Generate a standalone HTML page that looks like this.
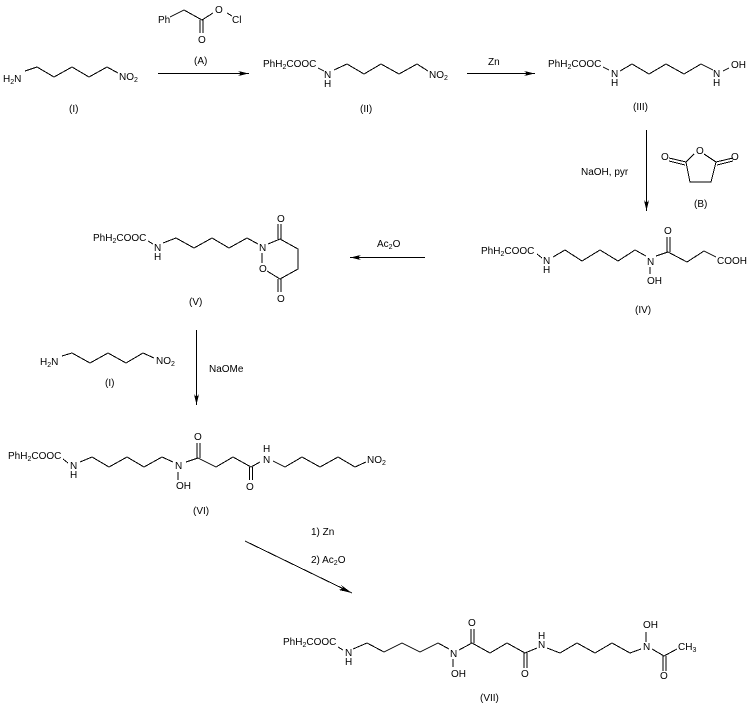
<!DOCTYPE html>
<html><head><meta charset="utf-8"><style>
html,body{margin:0;padding:0;background:#fff;width:752px;height:704px;overflow:hidden}
svg{display:block}
text{font-family:"Liberation Sans",sans-serif;font-size:10px;fill:#000}
tspan.s{font-size:7px}
polyline,line{fill:none;stroke:#000;stroke-width:1}
polygon{fill:#000;stroke:none}
</style></head><body>
<svg width="752" height="704" viewBox="0 0 752 704" xmlns="http://www.w3.org/2000/svg" shape-rendering="crispEdges">
<!-- I -->
<text x="3" y="82">H<tspan class="s" dy="2">2</tspan><tspan dy="-2">N</tspan></text>
<polyline points="25,71 37,67 54,77 72,67 89,77 107,67 118,73"/>
<text x="119" y="80">NO<tspan class="s" dy="2">2</tspan></text>
<text x="69" y="112">(I)</text>
<!-- A -->
<text x="158" y="23">Ph</text>
<polyline points="170,17 184,10 202,20 213,13"/>
<text x="215" y="13">O</text>
<line x1="227" y1="13" x2="232" y2="16"/>
<text x="232" y="23">Cl</text>
<line x1="200" y1="20" x2="200" y2="33"/><line x1="203" y1="20" x2="203" y2="33"/>
<text x="198" y="43">O</text>
<text x="194" y="64">(A)</text>
<!-- arrow 1 -->
<line x1="158" y1="73.5" x2="249" y2="73.5"/>
<polygon points="238,71 249,73.5 238,76 241,73.5"/>
<!-- II -->
<text x="263" y="67">PhH<tspan class="s" dy="2">2</tspan><tspan dy="-2">COOC</tspan></text>
<line x1="318" y1="68" x2="324" y2="71"/>
<text x="324" y="78">N</text><text x="324" y="87">H</text>
<polyline points="334,70 347,64 364,74 381,64 399,74 417,64 428,71"/>
<text x="429" y="78">NO<tspan class="s" dy="2">2</tspan></text>
<text x="360" y="112">(II)</text>
<!-- arrow 2 -->
<line x1="467" y1="73.5" x2="535" y2="73.5"/>
<polygon points="524,71 535,73.5 524,76 527,73.5"/>
<text x="488" y="65">Zn</text>
<!-- III -->
<text x="548" y="67">PhH<tspan class="s" dy="2">2</tspan><tspan dy="-2">COOC</tspan></text>
<line x1="603" y1="67" x2="609" y2="70"/>
<text x="611" y="77">N</text><text x="611" y="86">H</text>
<polyline points="620,71 632,64 649,74 666,64 684,74 701,64 713,70"/>
<text x="713" y="77">N</text><text x="713" y="86">H</text>
<line x1="723" y1="71" x2="729" y2="68"/>
<text x="731" y="68">OH</text>
<text x="633" y="110">(III)</text>
<!-- arrow 3 -->
<line x1="646.5" y1="130" x2="646.5" y2="211"/>
<polygon points="644,200 646.5,211 649,200 646.5,203"/>
<text x="581" y="175">NaOH, pyr</text>
<!-- B -->
<text x="661" y="160">O</text><text x="696" y="154">O</text><text x="731" y="160">O</text>
<polyline points="694,154 686,162 690,182 711,182 716,162 704,154"/>
<line x1="669" y1="158" x2="686" y2="162"/><line x1="669" y1="161" x2="685" y2="165"/>
<line x1="733" y1="158" x2="716" y2="162"/><line x1="733" y1="161" x2="717" y2="165"/>
<text x="694" y="207">(B)</text>
<!-- IV -->
<text x="481" y="254">PhH<tspan class="s" dy="2">2</tspan><tspan dy="-2">COOC</tspan></text>
<line x1="537" y1="254" x2="542" y2="258"/>
<text x="543" y="264">N</text><text x="543" y="273">H</text>
<polyline points="553,257 565,250 582,261 600,250 618,261 635,250 646,256"/>
<text x="647" y="265">N</text>
<line x1="650" y1="267" x2="650" y2="274"/>
<text x="647" y="284">OH</text>
<polyline points="656,256 668,252 687,262 704,251 716,257"/>
<line x1="667" y1="252" x2="667" y2="237"/><line x1="670" y1="252" x2="670" y2="237"/>
<text x="664" y="234">O</text>
<text x="717" y="264">COOH</text>
<text x="635" y="313">(IV)</text>
<!-- arrow 4 -->
<line x1="425" y1="257.5" x2="350" y2="257.5"/>
<polygon points="361,255 350,257.5 361,260 358,257.5"/>
<text x="377" y="247">Ac<tspan class="s" dy="2">2</tspan><tspan dy="-2">O</tspan></text>
<!-- V -->
<text x="93" y="241">PhH<tspan class="s" dy="2">2</tspan><tspan dy="-2">COOC</tspan></text>
<line x1="148" y1="241" x2="153" y2="244"/>
<text x="154" y="251">N</text><text x="154" y="260">H</text>
<polyline points="163,243 176,238 194,248 212,238 229,248 247,238 258,244"/>
<text x="259" y="251">N</text>
<line x1="262" y1="253" x2="262" y2="263"/>
<text x="259" y="272">O</text>
<polyline points="268,244 280,239 298,249 298,269 280,279 267,271"/>
<line x1="278" y1="239" x2="278" y2="224"/><line x1="281" y1="239" x2="281" y2="224"/>
<text x="277" y="222">O</text>
<line x1="278" y1="279" x2="278" y2="292"/><line x1="281" y1="279" x2="281" y2="292"/>
<text x="277" y="302">O</text>
<text x="189" y="305">(V)</text>
<!-- I second -->
<text x="40" y="365">H<tspan class="s" dy="2">2</tspan><tspan dy="-2">N</tspan></text>
<polyline points="62,356 72,353 90,363 108,353 126,363 143,353 154,358"/>
<text x="156" y="364">NO<tspan class="s" dy="2">2</tspan></text>
<text x="105" y="386">(I)</text>
<!-- arrow 5 -->
<line x1="196.5" y1="330" x2="196.5" y2="405"/>
<polygon points="194,394 196.5,405 199,394 196.5,397"/>
<text x="209" y="372">NaOMe</text>
<!-- VI -->
<text x="8" y="459">PhH<tspan class="s" dy="2">2</tspan><tspan dy="-2">COOC</tspan></text>
<line x1="63" y1="459" x2="68" y2="463"/>
<text x="70" y="469">N</text><text x="70" y="478">H</text>
<polyline points="80,462 92,457 109,467 127,457 144,467 162,457 173,462"/>
<text x="175" y="469">N</text>
<line x1="178" y1="472" x2="178" y2="480"/>
<text x="176" y="489">OH</text>
<polyline points="186,462 198,458 216,467 233,457 251,467 260,462"/>
<line x1="197" y1="458" x2="197" y2="443"/><line x1="200" y1="458" x2="200" y2="443"/>
<text x="194" y="440">O</text>
<line x1="249.5" y1="467" x2="249.5" y2="480"/><line x1="252.5" y1="467" x2="252.5" y2="480"/>
<text x="246" y="490">O</text>
<text x="263" y="463">N</text><text x="263" y="452">H</text>
<polyline points="273,461 285,467 302,457 320,467 338,457 355,467 366,462"/>
<text x="367" y="463">NO<tspan class="s" dy="2">2</tspan></text>
<text x="193" y="514">(VI)</text>
<!-- arrow 6 -->
<line x1="245" y1="541" x2="352" y2="593"/>
<polygon points="341,585 352,593 339,590 343,588"/>
<text x="311" y="535">1) Zn</text>
<text x="311" y="563">2) Ac<tspan class="s" dy="2">2</tspan><tspan dy="-2">O</tspan></text>
<!-- VII -->
<text x="283" y="645">PhH<tspan class="s" dy="2">2</tspan><tspan dy="-2">COOC</tspan></text>
<line x1="338" y1="647" x2="343" y2="650"/>
<text x="345" y="656">N</text><text x="345" y="665">H</text>
<polyline points="353,649 367,643 384,652 402,643 420,652 438,643 449,649"/>
<text x="450" y="657">N</text>
<line x1="453" y1="659" x2="453" y2="667"/>
<text x="451" y="677">OH</text>
<polyline points="459,650 472,643 490,653 507,643 525,653 537,648"/>
<line x1="471" y1="643" x2="471" y2="629"/><line x1="474" y1="643" x2="474" y2="629"/>
<text x="468" y="626">O</text>
<line x1="524" y1="653" x2="524" y2="668"/><line x1="527" y1="653" x2="527" y2="668"/>
<text x="521" y="677">O</text>
<text x="538" y="648">N</text><text x="538" y="639">H</text>
<polyline points="547,648 560,653 577,643 595,653 612,643 630,653 641,649"/>
<text x="643" y="650">N</text>
<line x1="646" y1="642" x2="646" y2="632"/>
<text x="643" y="628">OH</text>
<polyline points="652,649 664,656 677,649"/>
<line x1="663" y1="656" x2="663" y2="671"/><line x1="666" y1="656" x2="666" y2="671"/>
<text x="660" y="679">O</text>
<text x="678" y="650">CH<tspan class="s" dy="2">3</tspan></text>
<text x="480" y="701">(VII)</text>
</svg>
</body></html>
